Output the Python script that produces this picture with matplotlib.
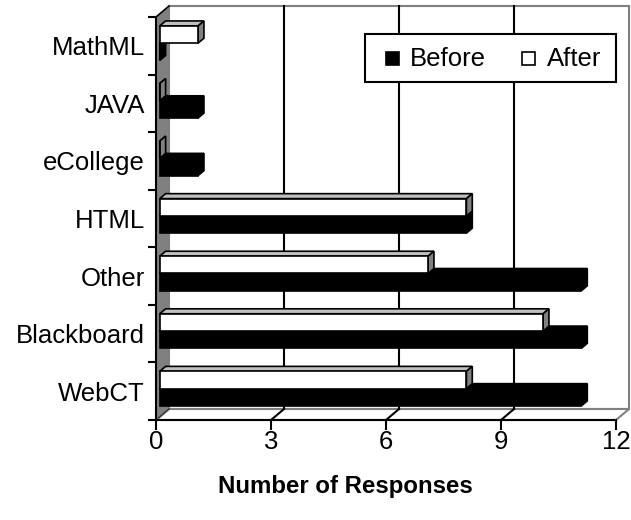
import matplotlib
matplotlib.use('Agg')
import matplotlib.pyplot as plt
from matplotlib.patches import Polygon, Rectangle

plt.rcParams['font.family'] = ['Liberation Sans', 'DejaVu Sans']

# data (bottom to top)
categories = ['WebCT', 'Blackboard', 'Other', 'HTML', 'eCollege', 'JAVA', 'MathML']
before = [11, 11, 11, 8, 1, 1, 0]
after = [8, 10, 7, 8, 0, 0, 1]
x_ticks = [0, 3, 6, 9, 12]
series_names = ['Before', 'After']

W, H = 631, 520
fig = plt.figure(figsize=(W / 100, H / 100), dpi=100)
fig.patch.set_facecolor('white')

# front plane of the 3-D box, in pixels
x0, x1 = 156, 616
ytop, ybot = 17, 420
ax = fig.add_axes([x0 / W, 1 - ybot / H, (x1 - x0) / W, (ybot - ytop) / H])
n = len(categories)
xmax = x_ticks[-1]
ax.set_xlim(0, xmax)
ax.set_ylim(0, n)
ax.patch.set_alpha(0)

# depth of the box (13 px right, 11 px up) in data units
DX = 13 / ((x1 - x0) / xmax)
DY = 11 / ((ybot - ytop) / n)
GRAY = '#808080'
LW = 1.5
FS = 18.5

# walls and floor
ax.add_patch(Polygon([(0, 0), (DX, DY), (DX, n + DY), (0, n)], closed=True,
                     fc=GRAY, ec='none', clip_on=False, zorder=1))
ax.add_patch(Rectangle((DX, DY), xmax, n, fc='white', ec=GRAY, lw=LW,
                       clip_on=False, zorder=1))
ax.add_patch(Polygon([(0, 0), (xmax, 0), (xmax + DX, DY), (DX, DY)], closed=True,
                     fc='white', ec=GRAY, lw=LW, clip_on=False, zorder=1))
ax.plot([0, DX], [n, n + DY], color='black', lw=1.2, clip_on=False, zorder=2)
ax.plot([0, DX], [0, DY], color='#404040', lw=1.2, clip_on=False, zorder=2)

# gridlines on back wall + floor
for v in x_ticks[1:-1]:
    ax.plot([v + DX, v + DX], [DY, n + DY], color='black', lw=LW, clip_on=False, zorder=2)
    ax.plot([v, v + DX], [0, DY], color='black', lw=LW, clip_on=False, zorder=2)

# 3-D bars
F0, F1 = 0.29, 0.74   # depth range of bars (fraction of box depth)
BH = 0.30


def bar3d(y0, v, front, top, side):
    ox, oy = F0 * DX, F0 * DY
    ex, ey = (F1 - F0) * DX, (F1 - F0) * DY
    kw = dict(ec='black', lw=1.2, clip_on=False, zorder=3, joinstyle='miter')
    ax.add_patch(Polygon([(ox, y0 + BH + oy), (ox + v, y0 + BH + oy),
                          (ox + v + ex, y0 + BH + oy + ey), (ox + ex, y0 + BH + oy + ey)],
                         closed=True, fc=top, **kw))
    ax.add_patch(Polygon([(ox + v, y0 + oy), (ox + v + ex, y0 + oy + ey),
                          (ox + v + ex, y0 + BH + oy + ey), (ox + v, y0 + BH + oy)],
                         closed=True, fc=side, **kw))
    ax.add_patch(Rectangle((ox, y0 + oy), v, BH, fc=front, **kw))


for i in range(n):
    bar3d(i + 0.19, before[i], 'black', 'black', 'black')
    bar3d(i + 0.19 + BH, after[i], 'white', '#C0C0C0', GRAY)

# axes
for s in ['top', 'right']:
    ax.spines[s].set_visible(False)
for s in ['left', 'bottom']:
    ax.spines[s].set_linewidth(LW)
    ax.spines[s].set_zorder(4)

ax.set_xticks(x_ticks)
ax.set_xticklabels([str(t) for t in x_ticks], fontsize=FS)
ax.tick_params(axis='x', direction='out', length=7, width=LW, pad=0)

ax.set_yticks(range(n + 1))
ax.set_yticklabels([])
ax.tick_params(axis='y', which='major', direction='out', length=6, width=LW)
ax.set_yticks([i + 0.5 for i in range(n)], minor=True)
ax.set_yticklabels(categories, minor=True, fontsize=FS)
ax.tick_params(axis='y', which='minor', length=0, pad=8)

fig.text(345 / W, 1 - 487 / H, 'Number of Responses', ha='center', va='center',
         fontsize=17.3, fontweight='bold')

# legend box (Excel style)
tf = fig.transFigure
fig.patches.append(Rectangle((365 / W, 1 - 82 / H), 251 / W, 48 / H, transform=tf,
                             fc='white', ec='black', lw=LW, zorder=6))
for mx, tx, fc, name in [(386, 410, 'black', series_names[0]),
                         (522, 547, 'white', series_names[1])]:
    fig.patches.append(Rectangle((mx / W, 1 - 65 / H), 13 / W, 13 / H, transform=tf,
                                 fc=fc, ec='black', lw=1.2, zorder=7))
    fig.text(tx / W, 1 - 59 / H, name, ha='left', va='center', fontsize=FS, zorder=7)

fig.savefig('out.png', dpi=100)
